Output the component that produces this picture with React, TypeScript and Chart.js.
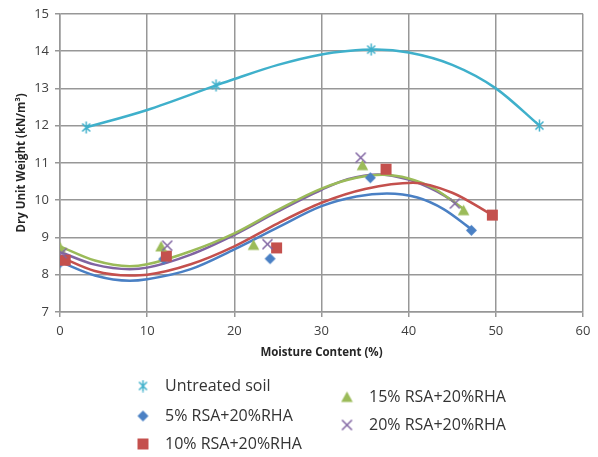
import React, { useEffect, useRef } from 'react';
import { Chart, registerables } from 'chart.js';

Chart.register(...registerables);

// ---------- data ----------
const seriesLabels = [
  'Untreated soil',
  '5% RSA+20%RHA',
  '10% RSA+20%RHA',
  '15% RSA+20%RHA',
  '20% RSA+20%RHA',
];

const untreatedX = [3.0, 17.9, 35.7, 55.0];
const untreatedY = [11.95, 13.08, 14.04, 12.0];

const rsa5X = [0, 11.9, 24.1, 35.6, 47.2];
const rsa5Y = [8.32, 8.42, 8.43, 10.6, 9.19];

const rsa10X = [0.6, 12.2, 24.85, 37.4, 49.6];
const rsa10Y = [8.39, 8.5, 8.72, 10.83, 9.6];

const rsa15X = [0, 11.6, 22.2, 34.7, 46.3];
const rsa15Y = [8.74, 8.76, 8.8, 10.94, 9.73];

const rsa20X = [0.2, 12.3, 23.8, 34.5, 45.3];
const rsa20Y = [8.58, 8.78, 8.82, 11.14, 9.91];

// trend lines
const untreatedTrendX = [3, 10, 17.9, 20, 25, 30, 33, 36.3, 40, 45, 50, 55];
const untreatedTrendY = [11.95, 12.42, 13.08, 13.25, 13.63, 13.91, 14.0, 14.04, 13.96, 13.63, 13.0, 12.0];

const rsa5TrendX = [0, 4, 8, 10, 15, 20, 25, 30, 34, 37.5, 41, 44, 47.2];
const rsa5TrendY = [8.35, 7.98, 7.84, 7.88, 8.15, 8.68, 9.27, 9.84, 10.1, 10.18, 10.07, 9.76, 9.22];

const rsa10TrendX = [0, 4, 8, 10, 15, 20, 25, 30, 35, 40.5, 45, 49.6];
const rsa10TrendY = [8.48, 8.1, 7.98, 8.0, 8.28, 8.76, 9.38, 9.93, 10.3, 10.47, 10.2, 9.6];

const rsa15TrendX = [0, 4, 8, 10, 15, 20, 25, 30, 34, 37, 40, 43, 46.2];
const rsa15TrendY = [8.76, 8.38, 8.23, 8.28, 8.63, 9.11, 9.74, 10.31, 10.6, 10.68, 10.58, 10.3, 9.78];

const rsa20TrendX = [0, 4, 8, 10, 15, 20, 25, 30, 33, 36.5, 40, 43, 45.3];
const rsa20TrendY = [8.61, 8.27, 8.15, 8.19, 8.54, 9.07, 9.7, 10.28, 10.56, 10.69, 10.55, 10.26, 9.95];

const xTickValues = [0, 10, 20, 30, 40, 50, 60];
const yTickValues = [7, 8, 9, 10, 11, 12, 13, 14, 15];

// ---------- styles ----------
const colors = ['#3fb0cb', '#4a80c4', '#c4504d', '#9bbb59', '#8064a2'];
const markerKinds = ['star', 'diamond', 'square', 'triangle', 'cross'];

function makeMarker(kind: string, color: string): HTMLCanvasElement {
  const c = document.createElement('canvas');
  const s = 13;
  c.width = s;
  c.height = s;
  const ctx = c.getContext('2d')!;
  ctx.strokeStyle = color;
  ctx.fillStyle = color;
  ctx.lineWidth = 1.5;
  ctx.beginPath();
  if (kind === 'star') {
    ctx.moveTo(2.5, 2.5); ctx.lineTo(10.5, 10.5);
    ctx.moveTo(10.5, 2.5); ctx.lineTo(2.5, 10.5);
    ctx.moveTo(6.5, 0.5); ctx.lineTo(6.5, 12.5);
    ctx.stroke();
  } else if (kind === 'diamond') {
    ctx.moveTo(6.5, 1); ctx.lineTo(12, 6.5); ctx.lineTo(6.5, 12); ctx.lineTo(1, 6.5);
    ctx.closePath(); ctx.fill();
  } else if (kind === 'square') {
    ctx.rect(1, 1, 11, 11); ctx.fill();
  } else if (kind === 'triangle') {
    ctx.moveTo(6.5, 1); ctx.lineTo(12.3, 11.5); ctx.lineTo(0.7, 11.5);
    ctx.closePath(); ctx.fill();
  } else {
    ctx.moveTo(1.5, 1.5); ctx.lineTo(11.5, 11.5);
    ctx.moveTo(11.5, 1.5); ctx.lineTo(1.5, 11.5);
    ctx.stroke();
  }
  return c;
}

const zip = (xs: number[], ys: number[]) => xs.map((x, i) => ({ x, y: ys[i] }));

const legendLayout = [
  { x: 143, y: 386 },
  { x: 143, y: 416 },
  { x: 143, y: 444 },
  { x: 347, y: 397 },
  { x: 347, y: 425 },
];

export default function App() {
  const ref = useRef<HTMLCanvasElement>(null);

  useEffect(() => {
    const markers = colors.map((c, i) => makeMarker(markerKinds[i], c));
    const pointSets = [
      zip(untreatedX, untreatedY),
      zip(rsa5X, rsa5Y),
      zip(rsa10X, rsa10Y),
      zip(rsa15X, rsa15Y),
      zip(rsa20X, rsa20Y),
    ];
    const trendSets = [
      zip(untreatedTrendX, untreatedTrendY),
      zip(rsa5TrendX, rsa5TrendY),
      zip(rsa10TrendX, rsa10TrendY),
      zip(rsa15TrendX, rsa15TrendY),
      zip(rsa20TrendX, rsa20TrendY),
    ];
    const markerOrder = [1, 5, 4, 3, 2];

    const datasets: any[] = [];
    pointSets.forEach((d, i) => {
      datasets.push({
        label: seriesLabels[i],
        data: d,
        showLine: false,
        pointStyle: markers[i],
        pointRadius: 6,
        order: markerOrder[i],
      });
    });
    trendSets.forEach((d, i) => {
      datasets.push({
        label: seriesLabels[i] + ' trend',
        data: d,
        showLine: true,
        pointRadius: 0,
        borderColor: colors[i],
        borderWidth: 2.5,
        cubicInterpolationMode: 'monotone',
        fill: false,
        order: 10 + i,
      });
    });

    const legendPlugin = {
      id: 'customLegend',
      afterDraw(chart: any) {
        const ctx = chart.ctx;
        ctx.save();
        ctx.font = '16px "Open Sans"';
        ctx.fillStyle = '#333333';
        ctx.textBaseline = 'middle';
        ctx.textAlign = 'left';
        seriesLabels.forEach((label, i) => {
          const p = legendLayout[i];
          ctx.drawImage(markers[i], p.x - 6.5, p.y - 6.5);
          ctx.fillText(label, p.x + 22, p.y);
        });
        ctx.restore();
      },
    };

    const gridColor = '#979797';
    const chart = new Chart(ref.current!, {
      type: 'scatter',
      data: { datasets },
      plugins: [legendPlugin],
      options: {
        animation: false,
        responsive: false,
        devicePixelRatio: 1,
        layout: { padding: { top: 9, right: 15, bottom: 95, left: 0 } },
        plugins: { legend: { display: false }, tooltip: { enabled: false } },
        scales: {
          x: {
            type: 'linear',
            min: 0,
            max: 60,
            afterFit: (s: any) => { s.height = 50; },
            afterBuildTicks: (s: any) => { s.ticks = xTickValues.map((v) => ({ value: v })); },
            ticks: { color: '#404040', font: { family: '"Open Sans"', size: 13 }, padding: 6 },
            grid: { color: gridColor, lineWidth: 1.5, tickLength: 5, tickColor: gridColor },
            border: { color: gridColor, width: 1.5 },
            title: {
              display: true,
              text: 'Moisture Content (%)',
              color: '#262626',
              font: { family: '"Open Sans"', size: 11.5, weight: 'bold' },
              padding: { top: 0, bottom: 2 },
            },
          },
          y: {
            type: 'linear',
            min: 7,
            max: 15,
            afterFit: (s: any) => { s.width = 60; },
            afterBuildTicks: (s: any) => { s.ticks = yTickValues.map((v) => ({ value: v })); },
            ticks: { color: '#404040', font: { family: '"Open Sans"', size: 13 }, padding: 6 },
            grid: { color: gridColor, lineWidth: 1.5, tickLength: 5, tickColor: gridColor },
            border: { color: gridColor, width: 1.5 },
            title: {
              display: true,
              text: 'Dry Unit Weight (kN/m\u00b3)',
              color: '#262626',
              font: { family: '"Open Sans"', size: 11.5, weight: 'bold' },
              padding: { top: 15, bottom: 0 },
            },
          },
        },
      } as any,
    });
    return () => chart.destroy();
  }, []);

  return (
    <div style={{ position: 'fixed', left: 0, top: 0, width: 598, height: 457, background: '#fff' }}>
      <canvas ref={ref} width={598} height={457} style={{ display: 'block' }} />
    </div>
  );
}
